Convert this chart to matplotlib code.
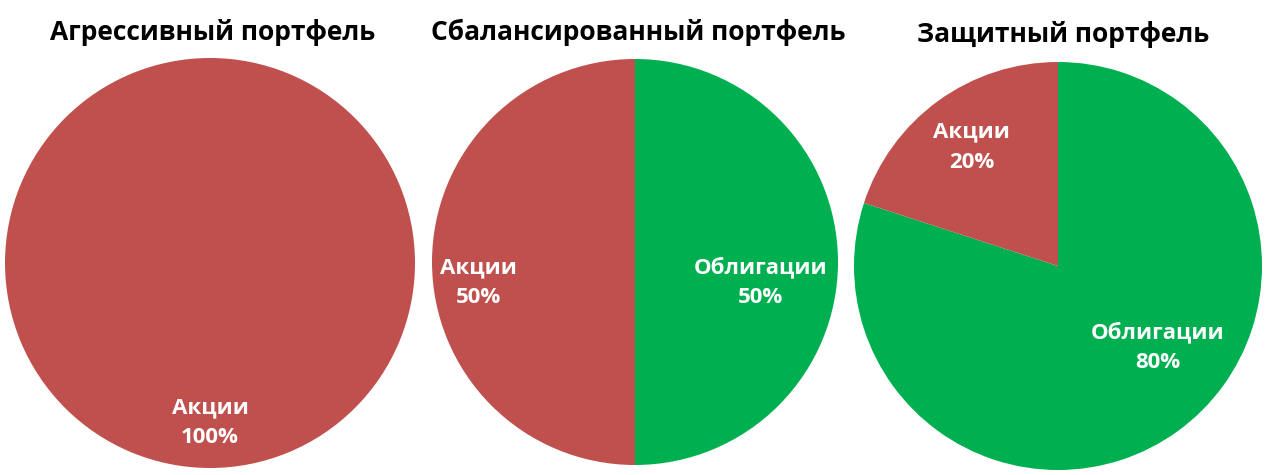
import numpy as np
import matplotlib
matplotlib.use("Agg")
import matplotlib.pyplot as plt

plt.rcParams["font.family"] = ["Open Sans", "DejaVu Sans"]

# --- data ---
titles = ["Агрессивный портфель", "Сбалансированный портфель", "Защитный портфель"]
aggressive_labels = ["Акции"]
aggressive_values = [100]
balanced_labels = ["Облигации", "Акции"]
balanced_values = [50, 50]
defensive_labels = ["Облигации", "Акции"]
defensive_values = [80, 20]

colors = {"Акции": "#C0504D", "Облигации": "#00B050"}

# --- layout (pixels of a 1272x475 canvas) ---
W, H = 1272, 475
# (center x, center y from top, radius)
pies = [(210, 263, 205), (635, 262, 203), (1058, 266, 204)]
title_pos = [(213, 32), (638, 32), (1063, 35)]
# label position: (radius fraction, angle nudge in degrees, vertical shift in radius units)
label_place = [
    [(0.78, 0, 0.0)],
    [(0.62, 0, -0.10), (0.77, 0, -0.10)],
    [(0.63, 15, 0.0), (0.72, 0, 0.0)],
]
series = [
    (aggressive_labels, aggressive_values),
    (balanced_labels, balanced_values),
    (defensive_labels, defensive_values),
]

fig = plt.figure(figsize=(W / 100, H / 100), dpi=100)

for (cx, cy, r), (labels, values), place in zip(pies, series, label_place):
    ax = fig.add_axes([(cx - r) / W, (H - cy - r) / H, 2 * r / W, 2 * r / H])
    wedges, _ = ax.pie(values, colors=[colors[l] for l in labels],
                       startangle=90, counterclock=False, radius=1.0,
                       wedgeprops=dict(linewidth=0))
    ax.set_xlim(-1, 1)
    ax.set_ylim(-1, 1)
    ax.set_aspect("equal")
    ax.axis("off")
    for w, lab, val, (frac, nudge, dy) in zip(wedges, labels, values, place):
        ang = np.deg2rad((w.theta1 + w.theta2) / 2 + nudge)
        if len(values) == 1:
            ang = np.deg2rad(-90)
        x = frac * np.cos(ang)
        y = frac * np.sin(ang) + dy
        ax.text(x, y, f"{lab}\n{val}%", ha="center", va="center",
                color="white", fontsize=16, fontweight="bold",
                linespacing=1.55)

for t, (tx, ty) in zip(titles, title_pos):
    fig.text(tx / W, 1 - ty / H, t, ha="center", va="center",
             fontsize=19, fontweight="bold", color="black")

fig.savefig("out.png", dpi=100)
